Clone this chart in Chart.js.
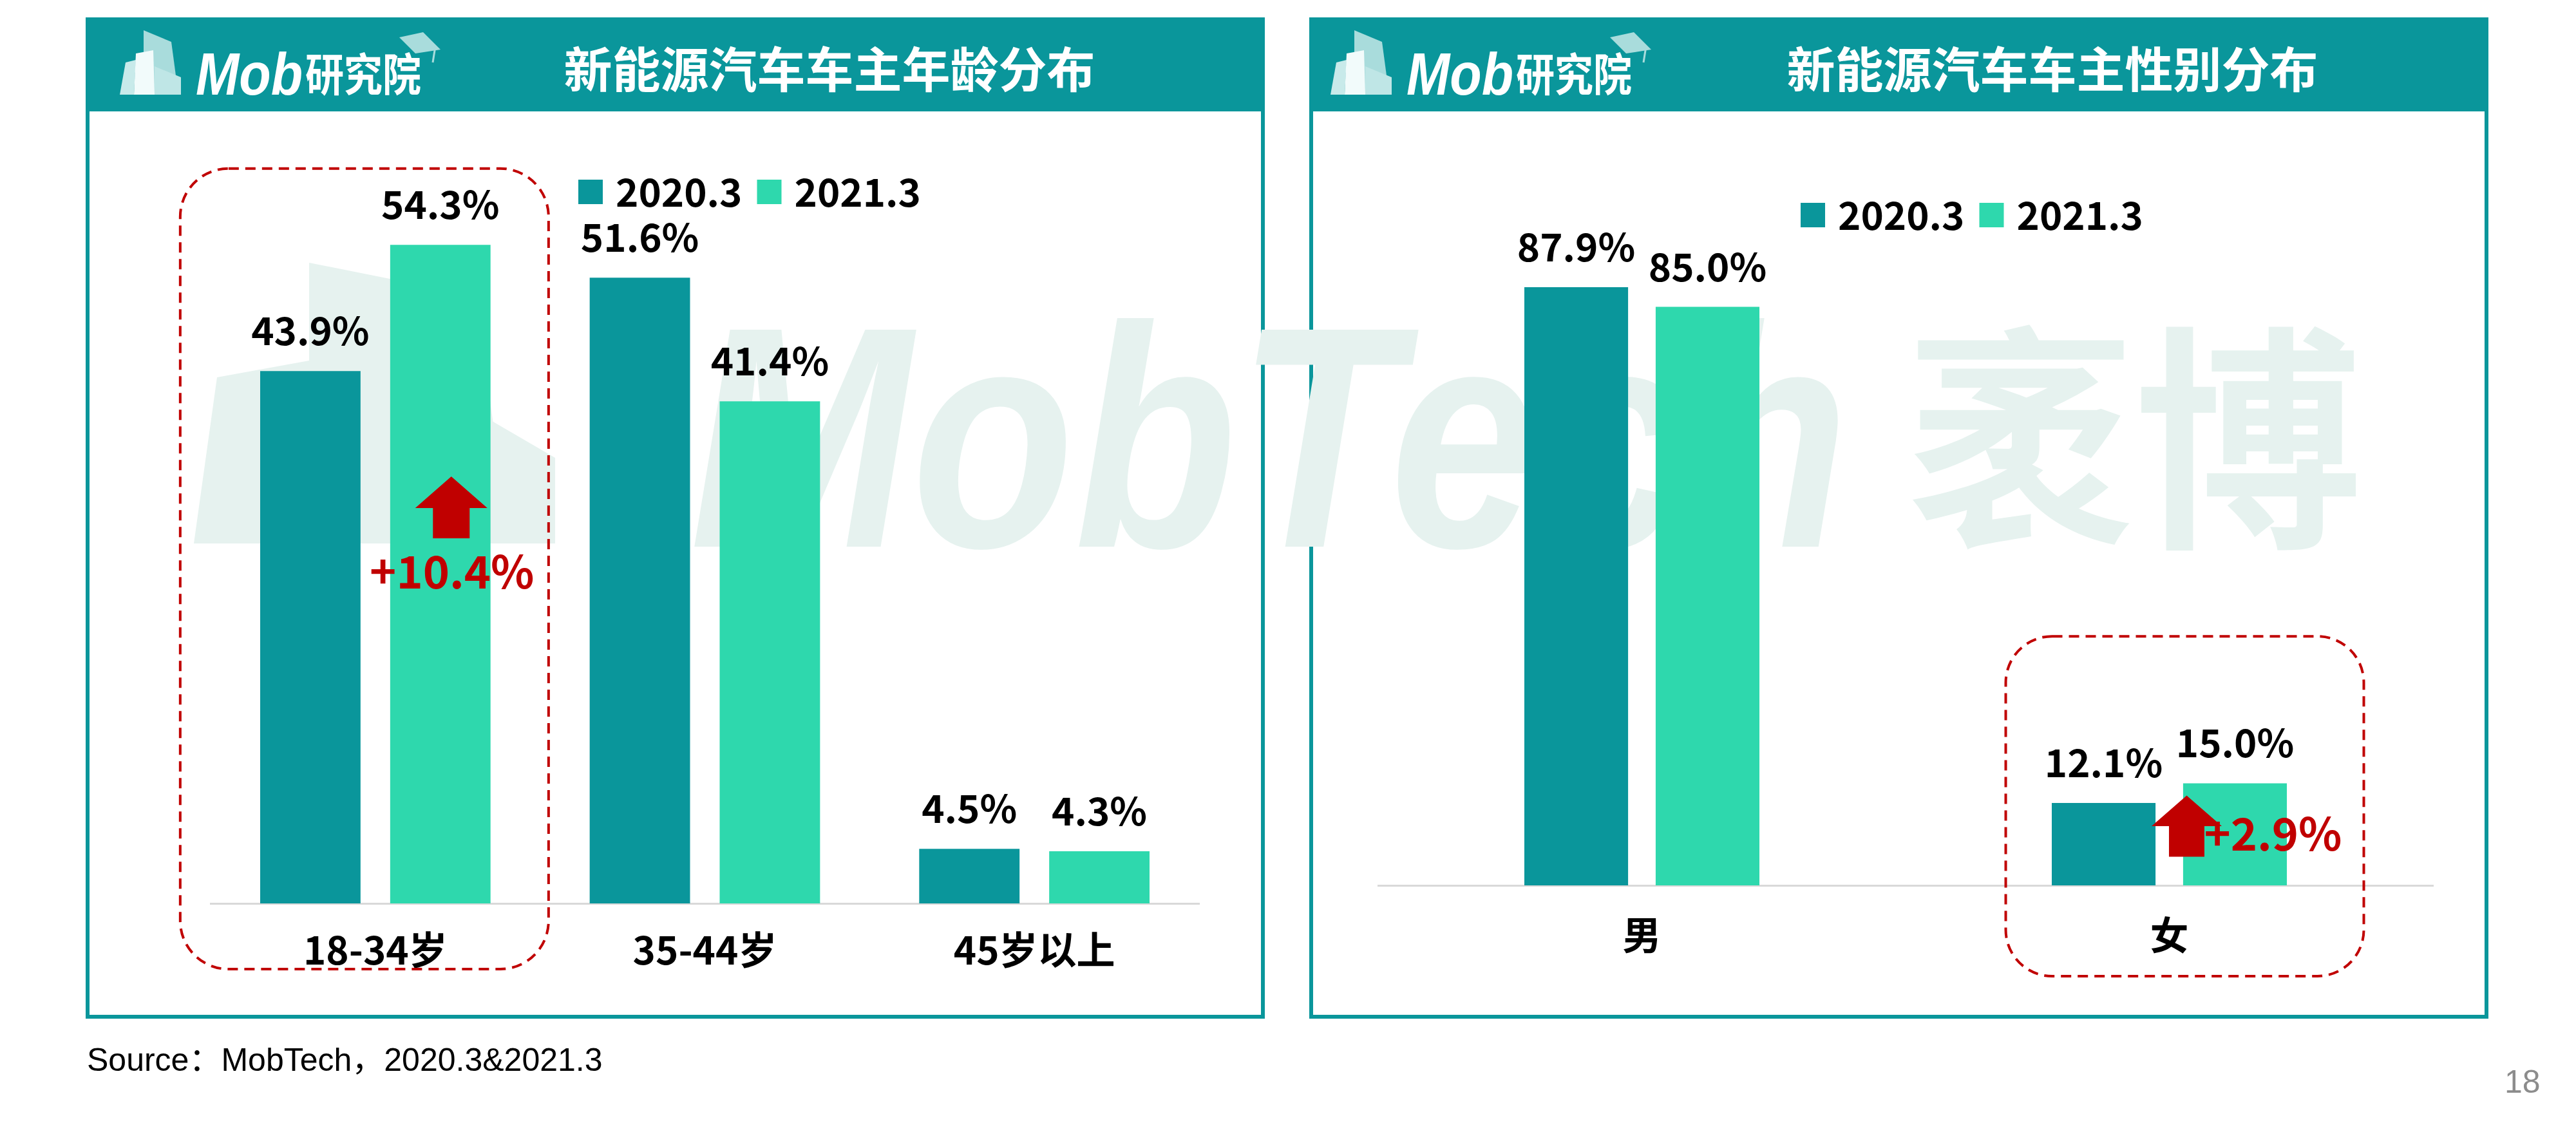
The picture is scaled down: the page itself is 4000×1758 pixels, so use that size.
<!DOCTYPE html>
<html>
<head>
<meta charset="utf-8">
<script src="https://cdn.jsdelivr.net/npm/chart.js@4.4.0/dist/chart.umd.min.js"></script>
<style>
  body { margin: 0; width: 4000px; height: 1758px; background: #fff; position: relative; overflow: hidden; font-family: "Noto Sans CJK SC", sans-serif; }
  .panel { position: absolute; top: 27px; width: 1831px; height: 1555px; box-sizing: border-box; border: 6px solid #0a969b; background: #fff; z-index: 0; }
  .head { position: absolute; left: 0; top: 0; right: 0; height: 140px; background: #0a969b; }
  .title { position: absolute; top: 31px; width: 1000px; height: 146px; line-height: 146px; text-align: center; color: #fff; font-size: 75px; font-weight: bold; z-index: 3; white-space: nowrap; }
  .logo { position: absolute; top: 47px; z-index: 3; }
  canvas { position: absolute; top: 173px; z-index: 2; }
  #wm { position: absolute; left: 0; top: 0; z-index: 1; }
  .source { position: absolute; left: 135px; top: 1621px; font: 50px "Liberation Sans", "Noto Sans CJK SC", sans-serif; line-height: 50px; color: #000; white-space: nowrap; }
  .page { position: absolute; left: 3889px; top: 1655px; font: 50px "Liberation Sans", sans-serif; line-height: 50px; color: #8c8c8c; }
</style>
</head>
<body>
<div class="panel" style="left:133px"><div class="head"></div></div>
<div class="panel" style="left:2033px"><div class="head"></div></div>

<svg id="wm" width="4000" height="1758">
  <g fill="#e6f2ef">
    <polygon points="480,408 740,460 790,844 480,844"/>
    <polygon points="301,844 337,586 480,560 480,844"/>
    <polygon points="740,640 862,711 862,844 740,844"/>
    <text x="1071" y="849" font-family="Liberation Sans" font-style="italic" font-weight="bold" font-size="490" textLength="1800" lengthAdjust="spacingAndGlyphs">MobTech</text>
    <text x="2961" y="822" font-family="Noto Sans CJK SC" font-weight="bold" font-size="370" textLength="707" lengthAdjust="spacingAndGlyphs">袤博</text>
  </g>
</svg>

<svg class="logo" style="left:186px" width="520" height="110">
  <polygon points="37,0 80,18 91,100 37,100" fill="#a9dcdc"/>
  <polygon points="0,100 9,50 25,46 22,100" fill="#c8eaea"/>
  <polygon points="54,56 95,73 95,100 54,100" fill="#bfe6e6"/>
  <polygon points="25,36 52,31 54,100 22,100" fill="#f2fbfb"/>
  <polygon points="434,11 471,3 498,30 459,36" fill="#a9dcdc"/>
  <line x1="490" y1="25" x2="486" y2="50" stroke="#a9dcdc" stroke-width="3"/>
  <text x="118" y="100" fill="#fff" font-family="Liberation Sans" font-style="italic" font-weight="bold" font-size="92" textLength="166" lengthAdjust="spacingAndGlyphs">Mob</text>
  <text x="288" y="95" fill="#fff" font-family="Noto Sans CJK SC" font-weight="bold" font-size="70" textLength="180" lengthAdjust="spacingAndGlyphs">研究院</text>
</svg>
<svg class="logo" style="left:2066px" width="520" height="110">
  <polygon points="37,0 80,18 91,100 37,100" fill="#a9dcdc"/>
  <polygon points="0,100 9,50 25,46 22,100" fill="#c8eaea"/>
  <polygon points="54,56 95,73 95,100 54,100" fill="#bfe6e6"/>
  <polygon points="25,36 52,31 54,100 22,100" fill="#f2fbfb"/>
  <polygon points="434,11 471,3 498,30 459,36" fill="#a9dcdc"/>
  <line x1="490" y1="25" x2="486" y2="50" stroke="#a9dcdc" stroke-width="3"/>
  <text x="118" y="100" fill="#fff" font-family="Liberation Sans" font-style="italic" font-weight="bold" font-size="92" textLength="166" lengthAdjust="spacingAndGlyphs">Mob</text>
  <text x="288" y="95" fill="#fff" font-family="Noto Sans CJK SC" font-weight="bold" font-size="70" textLength="180" lengthAdjust="spacingAndGlyphs">研究院</text>
</svg>

<div class="title" style="left:788px">新能源汽车车主年龄分布</div>
<div class="title" style="left:2687px">新能源汽车车主性别分布</div>

<canvas id="ageChart" width="1819" height="1403" style="left:139px"></canvas>
<canvas id="genderChart" width="1820" height="1403" style="left:2039px"></canvas>

<div class="source">Source：MobTech，2020.3&amp;2021.3</div>
<div class="page">18</div>

<script>
const seriesNames = ["2020.3", "2021.3"];
const ageLabels = ["18-34岁", "35-44岁", "45岁以上"];
const age2020 = [43.9, 51.6, 4.5];
const age2021 = [54.3, 41.4, 4.3];
const genderLabels = ["男", "女"];
const gender2020 = [87.9, 12.1];
const gender2021 = [85.0, 15.0];
const ageChange = "+10.4%";
const genderChange = "+2.9%";

const TEAL = "#0a969b";
const MINT = "#2ed8ad";
const RED = "#c00000";
const FONT = "'Noto Sans CJK SC', 'Noto Sans', sans-serif";

Chart.defaults.font.family = FONT;

// 柱顶数值
const valueLabels = {
    id: "valueLabels",
    afterDatasetsDraw(chart) {
        const ctx = chart.ctx;
        ctx.save();
        ctx.font = "bold 60px " + FONT;
        ctx.fillStyle = "#000";
        ctx.textAlign = "center";
        ctx.textBaseline = "alphabetic";
        chart.data.datasets.forEach((ds, i) => {
            chart.getDatasetMeta(i).data.forEach((bar, j) => {
                ctx.fillText(ds.data[j].toFixed(1) + "%", bar.x, bar.y - 40);
            });
        });
        ctx.restore();
    }
};

// 图例（方块 + 文字）
const keyLegend = {
    id: "keyLegend",
    afterDraw(chart, args, opts) {
        const ctx = chart.ctx;
        let x = opts.x;
        ctx.save();
        ctx.font = "bold 60px " + FONT;
        ctx.textBaseline = "middle";
        ctx.textAlign = "left";
        chart.data.datasets.forEach(ds => {
            ctx.fillStyle = ds.backgroundColor;
            ctx.fillRect(x, opts.y - 19, 38, 38);
            ctx.fillStyle = "#000";
            ctx.fillText(ds.label, x + 58, opts.y);
            x += 58 + ctx.measureText(ds.label).width + 23;
        });
        ctx.restore();
    }
};

function roundBox(ctx, x, y, w, h, r) {
    ctx.beginPath();
    ctx.moveTo(x + r, y);
    ctx.arcTo(x + w, y, x + w, y + h, r);
    ctx.arcTo(x + w, y + h, x, y + h, r);
    ctx.arcTo(x, y + h, x, y, r);
    ctx.arcTo(x, y, x + w, y, r);
    ctx.closePath();
}

// 红色虚线框 + 上升箭头 + 增量
const highlight = {
    id: "highlight",
    afterDraw(chart, args, o) {
        const ctx = chart.ctx, xs = chart.scales.x, ys = chart.scales.y, area = chart.chartArea;
        const cx = xs.getPixelForValue(o.index);
        const bar = chart.getDatasetMeta(1).data[o.index];
        ctx.save();
        ctx.strokeStyle = RED;
        ctx.lineWidth = 4;
        ctx.setLineDash([16, 10]);
        const top = ys.getPixelForValue(o.boxTop);
        roundBox(ctx, cx + o.boxLeft, top, o.boxRight - o.boxLeft, area.bottom + o.boxBottom - top, o.radius);
        ctx.stroke();
        ctx.setLineDash([]);

        const ax = bar.x + o.arrowShift;
        const tip = ys.getPixelForValue(o.tip), base = ys.getPixelForValue(o.base), foot = ys.getPixelForValue(o.foot);
        ctx.fillStyle = RED;
        ctx.beginPath();
        ctx.moveTo(ax, tip);
        ctx.lineTo(ax + o.head, base);
        ctx.lineTo(ax + o.stem, base);
        ctx.lineTo(ax + o.stem, foot);
        ctx.lineTo(ax - o.stem, foot);
        ctx.lineTo(ax - o.stem, base);
        ctx.lineTo(ax - o.head, base);
        ctx.closePath();
        ctx.fill();

        ctx.font = "bold 70px " + FONT;
        ctx.textAlign = o.textAlign;
        ctx.textBaseline = "middle";
        ctx.fillText(o.text, bar.x + o.textShift, ys.getPixelForValue(o.textAt));
        ctx.restore();
    }
};

function xAxis(height, pad) {
    return {
        grid: { display: false, drawTicks: false },
        border: { display: true, color: "#d9d9d9", width: 3 },
        ticks: { color: "#000", font: { size: 60, weight: "bold" }, padding: pad },
        afterFit(scale) { scale.height = height; }
    };
}

new Chart(document.getElementById("ageChart"), {
    type: "bar",
    data: {
        labels: ageLabels,
        datasets: [
            { label: seriesNames[0], data: age2020, backgroundColor: TEAL, categoryPercentage: 0.789, barPercentage: 0.772 },
            { label: seriesNames[1], data: age2021, backgroundColor: MINT, categoryPercentage: 0.789, barPercentage: 0.772 }
        ]
    },
    options: {
        responsive: false,
        animation: false,
        devicePixelRatio: 1,
        layout: { padding: { left: 188, right: 96, top: 100, bottom: 0 } },
        scales: {
            x: xAxis(173, 36),
            y: { display: false, min: 0, max: 60 }
        },
        plugins: {
            legend: { display: false },
            tooltip: { enabled: false },
            keyLegend: { x: 759, y: 125 },
            highlight: {
                index: 0, boxLeft: -303, boxRight: 269, boxTop: 60.6, boxBottom: 102, radius: 75,
                arrowShift: 17, tip: 35.2, base: 32.6, foot: 30.1, head: 56, stem: 28.5,
                text: ageChange, textShift: 18, textAt: 27.4, textAlign: "center"
            }
        }
    },
    plugins: [valueLabels, keyLegend, highlight]
});

new Chart(document.getElementById("genderChart"), {
    type: "bar",
    data: {
        labels: genderLabels,
        datasets: [
            { label: seriesNames[0], data: gender2020, backgroundColor: TEAL, categoryPercentage: 0.498, barPercentage: 0.79 },
            { label: seriesNames[1], data: gender2021, backgroundColor: MINT, categoryPercentage: 0.498, barPercentage: 0.79 }
        ]
    },
    options: {
        responsive: false,
        animation: false,
        devicePixelRatio: 1,
        layout: { padding: { left: 101, right: 81, top: 145, bottom: 0 } },
        scales: {
            x: xAxis(201, 41),
            y: { display: false, min: 0, max: 100 }
        },
        plugins: {
            legend: { display: false },
            tooltip: { enabled: false },
            keyLegend: { x: 757, y: 161 },
            highlight: {
                index: 1, boxLeft: -254, boxRight: 302, boxTop: 36.6, boxBottom: 141, radius: 72,
                arrowShift: -75, tip: 13.2, base: 8.7, foot: 4.2, head: 54.5, stem: 27.5,
                text: genderChange, textShift: -48, textAt: 7.6, textAlign: "left"
            }
        }
    },
    plugins: [valueLabels, keyLegend, highlight]
});
</script>
</body>
</html>
